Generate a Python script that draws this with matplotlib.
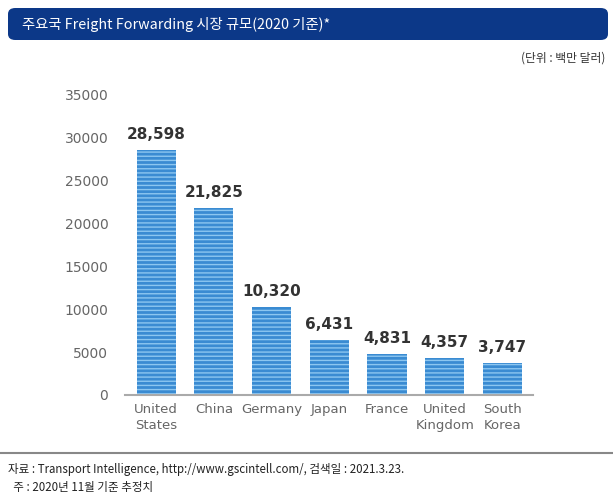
import matplotlib
matplotlib.use("Agg")
import matplotlib.pyplot as plt
from matplotlib.patches import FancyBboxPatch
from matplotlib.lines import Line2D

plt.rcParams['font.family'] = ['Noto Sans CJK KR', 'DejaVu Sans']

countries = ["United\nStates", "China", "Germany", "Japan", "France", "United\nKingdom", "South\nKorea"]
values = [28598, 21825, 10320, 6431, 4831, 4357, 3747]
yticks = [0, 5000, 10000, 15000, 20000, 25000, 30000, 35000]

title = "주요국 Freight Forwarding 시장 규모(2020 기준)*"
unit = "(단위 : 백만 달러)"
note1 = "자료 : Transport Intelligence, http://www.gscintell.com/, 검색일 : 2021.3.23."
note2 = "  주 : 2020년 11월 기준 추정치"

W, H = 613, 501
fig = plt.figure(figsize=(W/100, H/100), dpi=100)
fig.patch.set_facecolor('white')

# title box
box = FancyBboxPatch((8/W, (H-40)/H), 600/W, 32/H,
                     boxstyle="round,pad=0,rounding_size=0.012",
                     transform=fig.transFigure, facecolor='#0c3888', edgecolor='none')
fig.patches.append(box)
fig.text(22/W, (H-24)/H, title, color='white', fontsize=10.3, va='center', ha='left')
fig.text(605/W, (H-58)/H, unit, color='#333333', fontsize=8.5, va='center', ha='right')

ax = fig.add_axes([125/W, (H-395)/H, 408/W, 300/H])
plt.rcParams['hatch.linewidth'] = 1.0
x = list(range(len(values)))
bars = ax.bar(x, values, width=0.68, color='#3a8bd2', edgecolor='#8cc6f0', linewidth=0, hatch='----')
for xi, v in zip(x, values):
    ax.text(xi, v + 900, f"{v:,}", ha='center', va='bottom', fontsize=11, fontweight='bold',
            color='#333333', family='DejaVu Sans')

ax.set_xlim(-0.54, 6.53)
ax.set_ylim(0, 35000)
ax.set_yticks(yticks)
ax.set_yticklabels([str(t) for t in yticks], color='#666666', fontsize=10, family='DejaVu Sans')
ax.set_xticks(x)
ax.set_xticklabels(countries, color='#666666', fontsize=9.5, family='DejaVu Sans', linespacing=1.3)
ax.tick_params(axis='both', length=0)
ax.tick_params(axis='y', pad=12)
ax.tick_params(axis='x', pad=6)
for s in ['top', 'right', 'left']:
    ax.spines[s].set_visible(False)
ax.spines['bottom'].set_color('#aaaaaa')
ax.spines['bottom'].set_linewidth(1.5)

fig.add_artist(Line2D([0, 1], [(H-453)/H, (H-453)/H], transform=fig.transFigure,
                      color='#888888', linewidth=1.5))
fig.text(8/W, (H-469)/H, note1, color='#222222', fontsize=8.3, va='center', ha='left')
fig.text(8/W, (H-488)/H, note2, color='#222222', fontsize=8.3, va='center', ha='left')

fig.savefig("out.png", dpi=100)
